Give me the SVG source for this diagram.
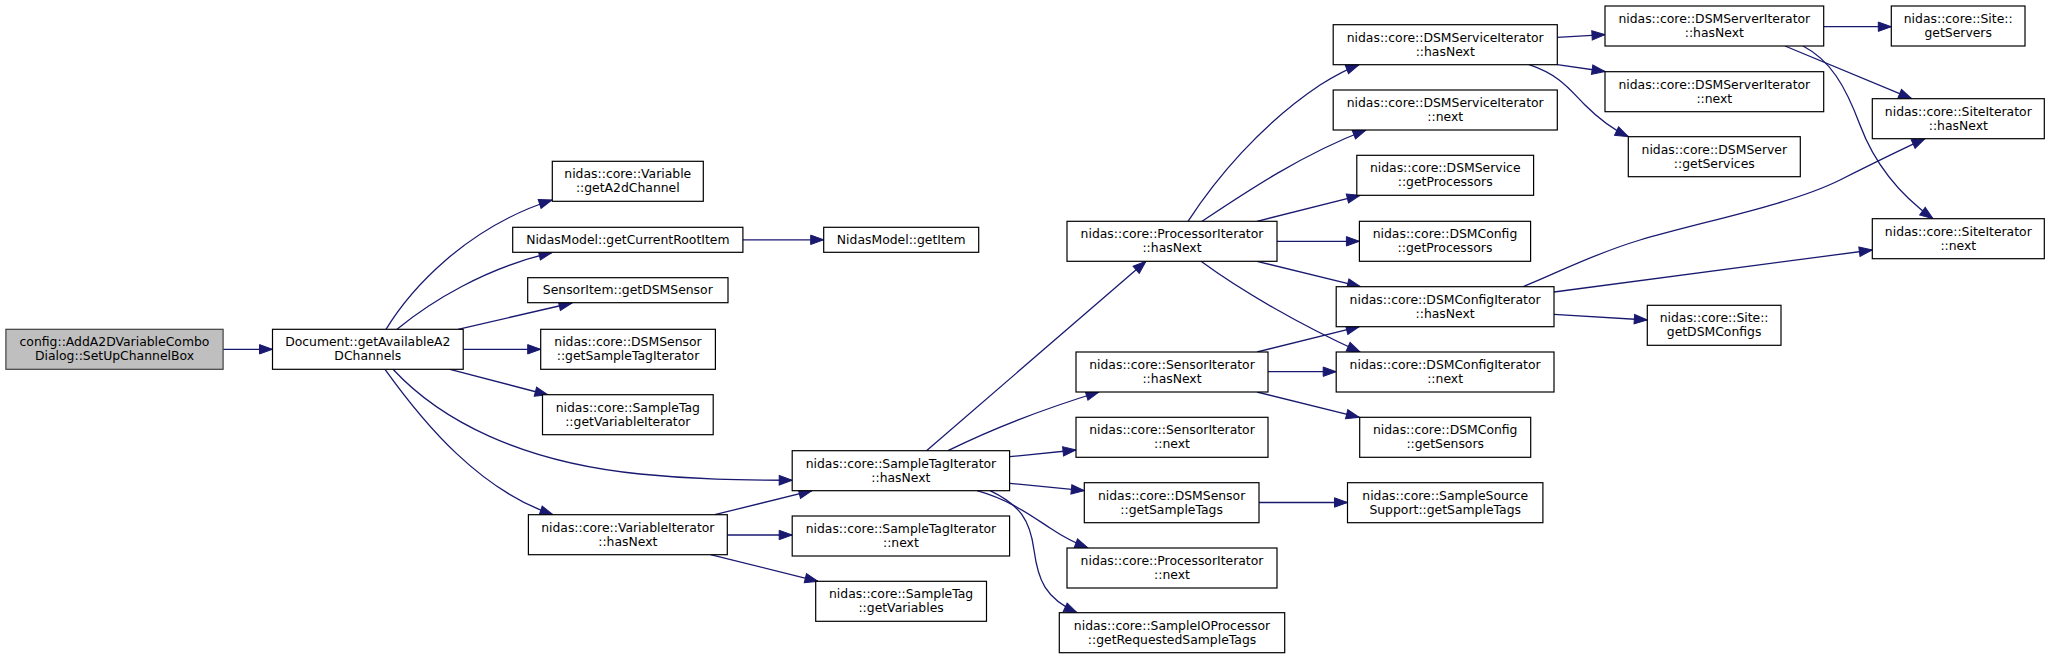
<svg xmlns="http://www.w3.org/2000/svg" width="2051" height="659" viewBox="0 0 2051 659">
<style>
.n rect{fill:#ffffff;stroke:#000000;stroke-width:1.2}
.n.root rect{fill:#bfbfbf;stroke:#404040}
.n text{font-family:"DejaVu Sans","Liberation Sans",sans-serif;font-size:12.4px;fill:#000;text-anchor:middle}
.e path{fill:none;stroke:#191970;stroke-width:1.3;marker-end:url(#arr)}
</style>
<defs>
<marker id="arr" markerUnits="userSpaceOnUse" markerWidth="14" markerHeight="10" refX="13" refY="4.7" orient="auto" viewBox="0 0 14 10" overflow="visible">
<path d="M0,0 L13,4.7 L0,9.4 z" fill="#191970" stroke="#191970" stroke-width="1"/>
</marker>
</defs>
<rect width="2051" height="659" fill="#ffffff"/>
<g id="connectors" class="e">
<path d="M223,349.3 L272.5,349.3"/>
<path d="M386,329.3 C410,290 465,228 552,200"/>
<path d="M397,329.3 C430,302 485,268 552,252.5"/>
<path d="M458,329.3 L572,303"/>
<path d="M463.2,349.3 L540.7,349.3"/>
<path d="M450,369.3 L548,395"/>
<path d="M393,369.3 C440,420 520,462 640,474 C700,480 740,480 792.2,480.3"/>
<path d="M385,369.3 C425,425 480,490 553,514.7"/>
<path d="M742.9,239.8 L823.7,239.8"/>
<path d="M714.7,514.7 L812,490.7"/>
<path d="M727.3,535 L792.2,535"/>
<path d="M710.5,554.7 L818,581.3"/>
<path d="M926.5,450.7 L1146,261.3"/>
<path d="M948,450.7 C990,430 1040,410 1099,392"/>
<path d="M1009.6,456.7 L1076,450"/>
<path d="M1009.6,483.3 L1084.3,490.7"/>
<path d="M977,490.7 C1010,500 1030,515 1050,528 C1065,538 1075,543 1088,548"/>
<path d="M990,490.7 C1020,505 1030,520 1034,550 C1038,580 1045,598 1077,612.7"/>
<path d="M1188,221.3 C1215,180 1260,125 1320,85 C1333,77 1345,70 1359,64.7"/>
<path d="M1202,221.3 C1240,196 1300,155 1366,130"/>
<path d="M1257,221.3 L1360,195.3"/>
<path d="M1277,241.3 L1359.4,241.3"/>
<path d="M1257,261.3 L1360.4,286.7"/>
<path d="M1201,261.3 C1240,290 1300,325 1360,352"/>
<path d="M1257,352 L1359.3,326.7"/>
<path d="M1268,371.7 L1336.2,371.7"/>
<path d="M1257,392 L1359.3,417.3"/>
<path d="M1259,502.5 L1347.5,502.5"/>
<path d="M1557.3,37.3 L1605,34.7"/>
<path d="M1557.3,64.7 L1605,71.5"/>
<path d="M1529,64.7 C1560,75 1570,90 1585,105 C1598,118 1610,128 1628.3,136.7"/>
<path d="M1823.7,26.7 L1891.3,26.7"/>
<path d="M1785,46 L1911.7,98.7"/>
<path d="M1803,46 C1830,60 1845,85 1860,125 C1875,165 1900,195 1933,218.7"/>
<path d="M1523,286.7 C1560,272 1590,255 1640,240 C1700,222 1790,205 1840,180 C1870,165 1900,150 1925,138.7"/>
<path d="M1554,292 L1872.3,250"/>
<path d="M1554,314.3 L1647.3,320"/>
</g>
<g id="n1" class="n root"><rect x="5.9" y="329.3" width="217.2" height="40"/><text x="114.5" y="346.1">config::AddA2DVariableCombo</text><text x="114.5" y="360.1">Dialog::SetUpChannelBox</text></g>
<g id="n2" class="n"><rect x="272.5" y="329.3" width="190.7" height="40"/><text x="367.8" y="346.1">Document::getAvailableA2</text><text x="367.8" y="360.1">DChannels</text></g>
<g id="n3" class="n"><rect x="552.3" y="161.3" width="151" height="40"/><text x="627.8" y="178.1">nidas::core::Variable</text><text x="627.8" y="192.1">::getA2dChannel</text></g>
<g id="n4" class="n"><rect x="512.7" y="227.3" width="230.2" height="25"/><text x="627.8" y="243.8">NidasModel::getCurrentRootItem</text></g>
<g id="n5" class="n"><rect x="527.7" y="277.7" width="200.3" height="25"/><text x="627.8" y="294.2">SensorItem::getDSMSensor</text></g>
<g id="n6" class="n"><rect x="540.7" y="329.3" width="174.7" height="40"/><text x="628" y="346.1">nidas::core::DSMSensor</text><text x="628" y="360.1">::getSampleTagIterator</text></g>
<g id="n7" class="n"><rect x="542.5" y="394.7" width="170.7" height="40"/><text x="627.8" y="411.5">nidas::core::SampleTag</text><text x="627.8" y="425.5">::getVariableIterator</text></g>
<g id="n8" class="n"><rect x="528.4" y="514.7" width="198.9" height="40"/><text x="627.8" y="531.5">nidas::core::VariableIterator</text><text x="627.8" y="545.5">::hasNext</text></g>
<g id="n9" class="n"><rect x="823.7" y="227.3" width="155" height="25"/><text x="901.2" y="243.8">NidasModel::getItem</text></g>
<g id="n10" class="n"><rect x="792.2" y="450.7" width="217.4" height="40"/><text x="900.9" y="467.5">nidas::core::SampleTagIterator</text><text x="900.9" y="481.5">::hasNext</text></g>
<g id="n11" class="n"><rect x="792.2" y="516" width="217.4" height="40"/><text x="900.9" y="532.8">nidas::core::SampleTagIterator</text><text x="900.9" y="546.8">::next</text></g>
<g id="n12" class="n"><rect x="815.7" y="581.3" width="170.8" height="40"/><text x="901.1" y="598.1">nidas::core::SampleTag</text><text x="901.1" y="612.1">::getVariables</text></g>
<g id="n13" class="n"><rect x="1067" y="221.3" width="210" height="40"/><text x="1172" y="238.1">nidas::core::ProcessorIterator</text><text x="1172" y="252.1">::hasNext</text></g>
<g id="n14" class="n"><rect x="1076" y="352" width="192" height="40"/><text x="1172" y="368.8">nidas::core::SensorIterator</text><text x="1172" y="382.8">::hasNext</text></g>
<g id="n15" class="n"><rect x="1076" y="417.3" width="192" height="40"/><text x="1172" y="434.1">nidas::core::SensorIterator</text><text x="1172" y="448.1">::next</text></g>
<g id="n16" class="n"><rect x="1084.3" y="482.7" width="174.7" height="40"/><text x="1171.6" y="499.5">nidas::core::DSMSensor</text><text x="1171.6" y="513.5">::getSampleTags</text></g>
<g id="n17" class="n"><rect x="1067" y="548" width="210" height="40"/><text x="1172" y="564.8">nidas::core::ProcessorIterator</text><text x="1172" y="578.8">::next</text></g>
<g id="n18" class="n"><rect x="1059.3" y="612.7" width="225.4" height="40"/><text x="1172" y="629.5">nidas::core::SampleIOProcessor</text><text x="1172" y="643.5">::getRequestedSampleTags</text></g>
<g id="n19" class="n"><rect x="1333.2" y="24.7" width="224.1" height="40"/><text x="1445.2" y="41.5">nidas::core::DSMServiceIterator</text><text x="1445.2" y="55.5">::hasNext</text></g>
<g id="n20" class="n"><rect x="1333.2" y="90" width="224.1" height="40"/><text x="1445.2" y="106.8">nidas::core::DSMServiceIterator</text><text x="1445.2" y="120.8">::next</text></g>
<g id="n21" class="n"><rect x="1356.8" y="155.3" width="176.8" height="40"/><text x="1445.2" y="172.1">nidas::core::DSMService</text><text x="1445.2" y="186.1">::getProcessors</text></g>
<g id="n22" class="n"><rect x="1359.4" y="221.3" width="171.2" height="40"/><text x="1445" y="238.1">nidas::core::DSMConfig</text><text x="1445" y="252.1">::getProcessors</text></g>
<g id="n23" class="n"><rect x="1336.2" y="286.7" width="217.8" height="40"/><text x="1445.1" y="303.5">nidas::core::DSMConfigIterator</text><text x="1445.1" y="317.5">::hasNext</text></g>
<g id="n24" class="n"><rect x="1336.2" y="352" width="217.8" height="40"/><text x="1445.1" y="368.8">nidas::core::DSMConfigIterator</text><text x="1445.1" y="382.8">::next</text></g>
<g id="n25" class="n"><rect x="1359.7" y="417.3" width="171" height="40"/><text x="1445.2" y="434.1">nidas::core::DSMConfig</text><text x="1445.2" y="448.1">::getSensors</text></g>
<g id="n26" class="n"><rect x="1347.5" y="482.7" width="195.4" height="40"/><text x="1445.2" y="499.5">nidas::core::SampleSource</text><text x="1445.2" y="513.5">Support::getSampleTags</text></g>
<g id="n27" class="n"><rect x="1605" y="6" width="218.7" height="40"/><text x="1714.3" y="22.8">nidas::core::DSMServerIterator</text><text x="1714.3" y="36.8">::hasNext</text></g>
<g id="n28" class="n"><rect x="1605" y="71.7" width="218.7" height="40"/><text x="1714.3" y="88.5">nidas::core::DSMServerIterator</text><text x="1714.3" y="102.5">::next</text></g>
<g id="n29" class="n"><rect x="1628.3" y="136.7" width="172" height="40"/><text x="1714.3" y="153.5">nidas::core::DSMServer</text><text x="1714.3" y="167.5">::getServices</text></g>
<g id="n30" class="n"><rect x="1647.3" y="305.3" width="133.7" height="40"/><text x="1714.1" y="322.1">nidas::core::Site::</text><text x="1714.1" y="336.1">getDSMConfigs</text></g>
<g id="n31" class="n"><rect x="1891.3" y="6" width="133.7" height="40"/><text x="1958.2" y="22.8">nidas::core::Site::</text><text x="1958.2" y="36.8">getServers</text></g>
<g id="n32" class="n"><rect x="1872.3" y="98.7" width="172" height="40"/><text x="1958.3" y="115.5">nidas::core::SiteIterator</text><text x="1958.3" y="129.5">::hasNext</text></g>
<g id="n33" class="n"><rect x="1872.3" y="218.7" width="172" height="40"/><text x="1958.3" y="235.5">nidas::core::SiteIterator</text><text x="1958.3" y="249.5">::next</text></g>
</svg>
